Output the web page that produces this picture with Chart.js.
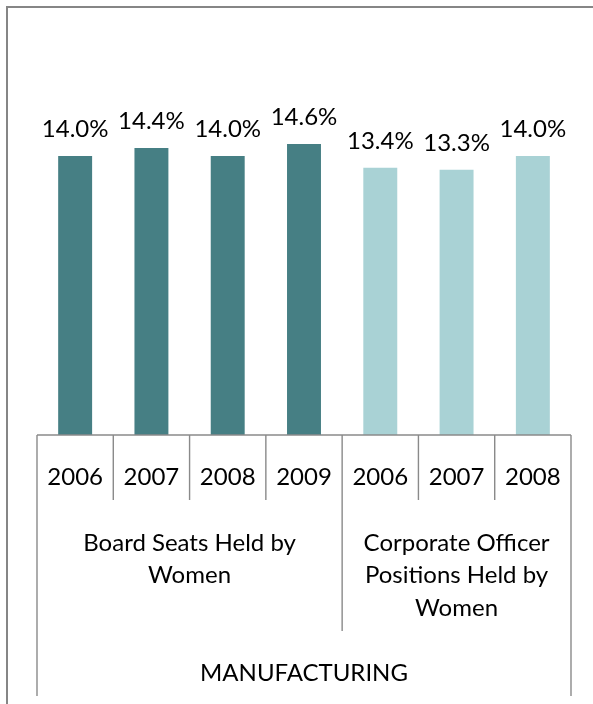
<!DOCTYPE html>
<html>
<head>
<meta charset="utf-8">
<script src="https://cdn.jsdelivr.net/npm/chart.js@4"></script>
<style>
  body { margin: 0; background: #fff; }
  canvas { display: block; }
</style>
</head>
<body>
<canvas id="graph" width="593" height="704"></canvas>
<script>
const years = ["2006", "2007", "2008", "2009", "2006", "2007", "2008"];
const values = [14.0, 14.4, 14.0, 14.6, 13.4, 13.3, 14.0];
const groupLabels = [
  ["Board Seats Held by", "Women"],
  ["Corporate Officer", "Positions Held by", "Women"],
];
const groupSizes = [4, 3];
const sector = "MANUFACTURING";
const barColors = ["#467f84", "#467f84", "#467f84", "#467f84", "#a9d2d5", "#a9d2d5", "#a9d2d5"];

const font = "24px Lato, 'Open Sans', sans-serif";
const lineColor = "#8a8a8a";

const excelLook = {
  id: "excelLook",
  afterDraw(chart) {
    const ctx = chart.ctx;
    const x = chart.scales.x;
    const y = chart.scales.y;
    const area = chart.chartArea;
    const w = x.getPixelForValue(1) - x.getPixelForValue(0);
    const edge = (i) => x.getPixelForValue(0) - w / 2 + i * w;
    const base = area.bottom;

    ctx.save();
    // outer frame
    ctx.strokeStyle = "#868686";
    ctx.lineWidth = 2;
    ctx.strokeRect(7, 7, 620, 720);

    // axis line and separators
    ctx.strokeStyle = lineColor;
    ctx.lineWidth = 1.4;
    ctx.beginPath();
    ctx.moveTo(edge(0), base);
    ctx.lineTo(edge(years.length), base);
    let groupEdges = [0];
    groupSizes.forEach((n) => groupEdges.push(groupEdges[groupEdges.length - 1] + n));
    for (let i = 0; i <= years.length; i++) {
      let len = 65;
      if (i === 0 || i === years.length) len = 261;
      else if (groupEdges.includes(i)) len = 196;
      ctx.moveTo(edge(i), base);
      ctx.lineTo(edge(i), base + len);
    }
    ctx.stroke();

    ctx.fillStyle = "#000";
    ctx.font = font;
    ctx.textAlign = "center";
    ctx.textBaseline = "middle";

    // years
    years.forEach((yr, i) => {
      ctx.fillText(yr, x.getPixelForValue(i), base + 42);
    });

    // group labels
    groupLabels.forEach((lines, g) => {
      const cx = (edge(groupEdges[g]) + edge(groupEdges[g + 1])) / 2;
      lines.forEach((ln, k) => {
        ctx.fillText(ln, cx, base + 108 + k * 32.5);
      });
    });

    // sector label
    ctx.fillText(sector, (edge(0) + edge(years.length)) / 2, base + 238);

    // value labels
    values.forEach((v, i) => {
      ctx.fillText(v.toFixed(1) + "%", x.getPixelForValue(i), y.getPixelForValue(v) - 27);
    });
    ctx.restore();
  },
};

new Chart(document.getElementById("graph"), {
  type: "bar",
  data: {
    labels: years,
    datasets: [
      {
        data: values,
        backgroundColor: barColors,
        borderWidth: 0,
        barPercentage: 0.445,
        categoryPercentage: 1,
      },
    ],
  },
  options: {
    responsive: false,
    animation: false,
    devicePixelRatio: 1,
    layout: { padding: { left: 37, right: 22, top: 116, bottom: 269 } },
    plugins: { legend: { display: false }, tooltip: { enabled: false } },
    scales: {
      x: { display: false },
      y: { display: false, min: 0, max: 16 },
    },
  },
  plugins: [excelLook],
});
</script>
</body>
</html>
